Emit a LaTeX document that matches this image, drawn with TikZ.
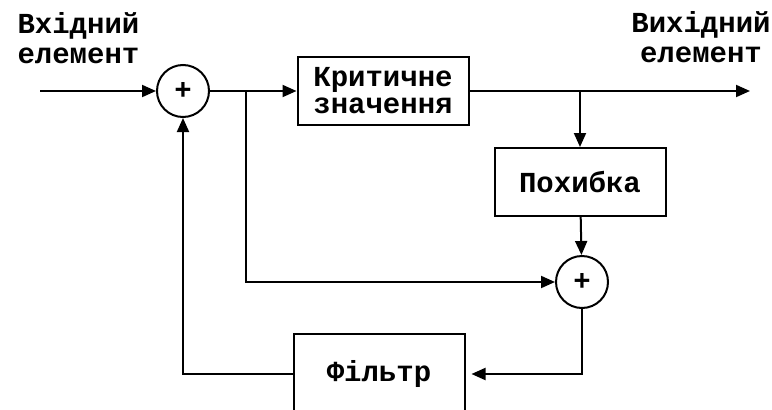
\documentclass[tikz,border=0pt]{standalone}
\usepackage{fontspec}
\setmonofont{Liberation Mono}
\usetikzlibrary{arrows.meta}
\tikzset{
    block/.style={draw,line width=2pt,minimum width=171pt,minimum height=68pt,inner sep=0pt,align=center},
    summ/.style={draw,circle,line width=2pt,minimum size=52pt,inner sep=0pt},
    wire/.style={line width=2pt},
    sig/.style={line width=2pt,-{Triangle[length=14pt,width=12pt]}},
}

\begin{document}
\begin{tikzpicture}[x=1pt,y=-1pt,font=\ttfamily\bfseries\fontsize{29}{27}\selectfont]
\useasboundingbox (0,0) rectangle (772,410);

        % blocks
        \node[summ] (sum1) at (183,91) {+};
        \node[block] (crit) at (383,91) {Критичне\\значення};
        \node[block] (err) at (580,182) {Похибка};
        \node[summ] (sum2) at (582,282) {+};
        \node[block,minimum height=80pt,anchor=north] (filt) at (379,333) {Фільтр};

        % labels
        \node[align=left,anchor=base west] (inlbl) at (14,63) {Вхідний\\[3pt]елемент};
        \node[align=center,anchor=base] (outlbl) at (701,62) {Вихідний\\[3pt]елемент};

        % branch points
        \coordinate (in) at (40,91);
        \coordinate (out) at (750,91);
        \coordinate (br1) at (246,91);
        \coordinate (br2) at (580,91);

        % connectors
        \draw[sig] (in) -- (sum1);
        \draw[sig] (sum1) -- (crit);
        \draw[sig] (crit) -- (out);
        \draw[sig] (br2) -- (err);
        \draw[sig] (err) -- (sum2);
        \draw[sig] (br1) |- (sum2);
        \draw[sig,shorten >=6pt] (sum2) |- (filt);
        \draw[sig] (filt) -| (sum1);
\end{tikzpicture}
\end{document}
